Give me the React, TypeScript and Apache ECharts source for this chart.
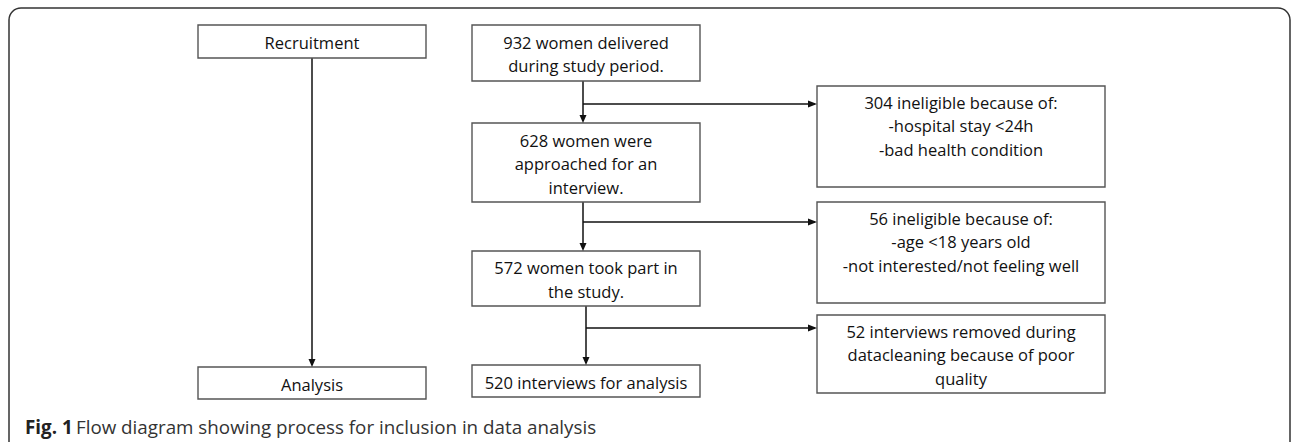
import React, { useEffect, useRef } from "react";
import * as echarts from "echarts";

// ---- data ----
const phaseLabels = ["Recruitment", "Analysis"];
const mainCounts = [932, 628, 572, 520];
const mainTexts = [
  "women delivered\nduring study period.",
  "women were\napproached for an\ninterview.",
  "women took part in\nthe study.",
  "interviews for analysis",
];
const exclCounts = [304, 56, 52];
const exclTexts = [
  "ineligible because of:\n-hospital stay <24h\n-bad health condition",
  "ineligible because of:\n-age <18 years old\n-not interested/not feeling well",
  "interviews removed during\ndatacleaning because of poor\nquality",
];
const captionBold = "Fig. 1";
const captionText = "Flow diagram showing process for inclusion in data analysis";

// ---- layout (positions, not data) ----
const phaseBoxes = [
  { x: 198, y: 25, w: 228, h: 33 },
  { x: 198, y: 367, w: 228, h: 32 },
];
const mainBoxes = [
  { x: 472, y: 25, w: 228, h: 56 },
  { x: 472, y: 123, w: 228, h: 79 },
  { x: 472, y: 251, w: 228, h: 55 },
  { x: 472, y: 365, w: 228, h: 32 },
];
const exclBoxes = [
  { x: 817, y: 86, w: 288, h: 101 },
  { x: 817, y: 202, w: 288, h: 101 },
  { x: 817, y: 315, w: 288, h: 78 },
];
const mainLineX = [583, 583, 586];
const branchY = [104, 222, 328];

const FONT = "'Open Sans', 'Noto Sans', sans-serif";
const FS = 16.5;
const LH = 23.5;
const BOX_STROKE = "#555555";
const LINE = "#111111";

function boxRect(b: any) {
  return {
    type: "rect",
    shape: { x: b.x, y: b.y, width: b.w, height: b.h },
    style: { fill: "#ffffff", stroke: BOX_STROKE, lineWidth: 1.4 },
    z: 2,
  };
}

function textEl(x: number, y: number, text: string, va: string) {
  return {
    type: "text",
    x,
    y,
    z: 3,
    style: {
      text,
      fill: "#111111",
      fontFamily: FONT,
      fontSize: FS,
      lineHeight: LH,
      align: "center",
      verticalAlign: va,
    },
  };
}

function line(x1: number, y1: number, x2: number, y2: number) {
  return {
    type: "line",
    shape: { x1, y1, x2, y2 },
    style: { stroke: LINE, lineWidth: 1.5 },
    z: 1,
  };
}

function arrowDown(x: number, tipY: number) {
  return {
    type: "polygon",
    shape: { points: [[x - 3.5, tipY - 8], [x + 3.5, tipY - 8], [x, tipY]] },
    style: { fill: LINE },
    z: 4,
  };
}

function arrowRight(tipX: number, y: number) {
  return {
    type: "polygon",
    shape: { points: [[tipX - 9, y - 3.5], [tipX - 9, y + 3.5], [tipX, y]] },
    style: { fill: LINE },
    z: 4,
  };
}

export default function App() {
  const ref = useRef<HTMLDivElement>(null);
  useEffect(() => {
    document.body.style.margin = "0";
    const chart = echarts.init(ref.current!, null, { renderer: "svg" });
    const els: any[] = [];

    // outer frame
    els.push({
      type: "rect",
      shape: { x: 9, y: 8, width: 1281, height: 470, r: 12 },
      style: { fill: "none", stroke: "#333333", lineWidth: 1.5 },
      z: 0,
    });

    // phase column
    phaseBoxes.forEach((b, i) => {
      els.push(boxRect(b));
      els.push(textEl(b.x + b.w / 2, b.y + b.h / 2 + 1, phaseLabels[i], "middle"));
    });
    const pc = phaseBoxes[0].x + phaseBoxes[0].w / 2;
    els.push(line(pc, phaseBoxes[0].y + phaseBoxes[0].h, pc, phaseBoxes[1].y - 2));
    els.push(arrowDown(pc, phaseBoxes[1].y));

    // main column
    mainBoxes.forEach((b, i) => {
      els.push(boxRect(b));
      els.push(textEl(b.x + b.w / 2, b.y + b.h / 2 + 1, mainCounts[i] + " " + mainTexts[i], "middle"));
    });
    for (let i = 0; i < 3; i++) {
      const a = mainBoxes[i];
      const c = mainBoxes[i + 1];
      const x = mainLineX[i];
      els.push(line(x, a.y + a.h, x, c.y - 2));
      els.push(arrowDown(x, c.y));
      const e = exclBoxes[i];
      els.push(line(x, branchY[i], e.x - 2, branchY[i]));
      els.push(arrowRight(e.x, branchY[i]));
    }

    // exclusion column
    exclBoxes.forEach((b, i) => {
      els.push(boxRect(b));
      els.push(textEl(b.x + b.w / 2, b.y + 4.5, exclCounts[i] + " " + exclTexts[i], "top"));
    });

    // caption
    els.push({
      type: "text",
      x: 25,
      y: 427,
      z: 3,
      style: {
        text: "{b|" + captionBold + "} {r|" + captionText + "}",
        align: "left",
        verticalAlign: "middle",
        rich: {
          b: { fontFamily: FONT, fontSize: 18.8, fontWeight: "bold", fill: "#222222" },
          r: { fontFamily: FONT, fontSize: 18.8, fill: "#333333" },
        },
      },
    });

    chart.setOption({ animation: false, graphic: { elements: els } });
    return () => chart.dispose();
  }, []);
  return <div ref={ref} style={{ width: 1292, height: 442 }} />;
}
